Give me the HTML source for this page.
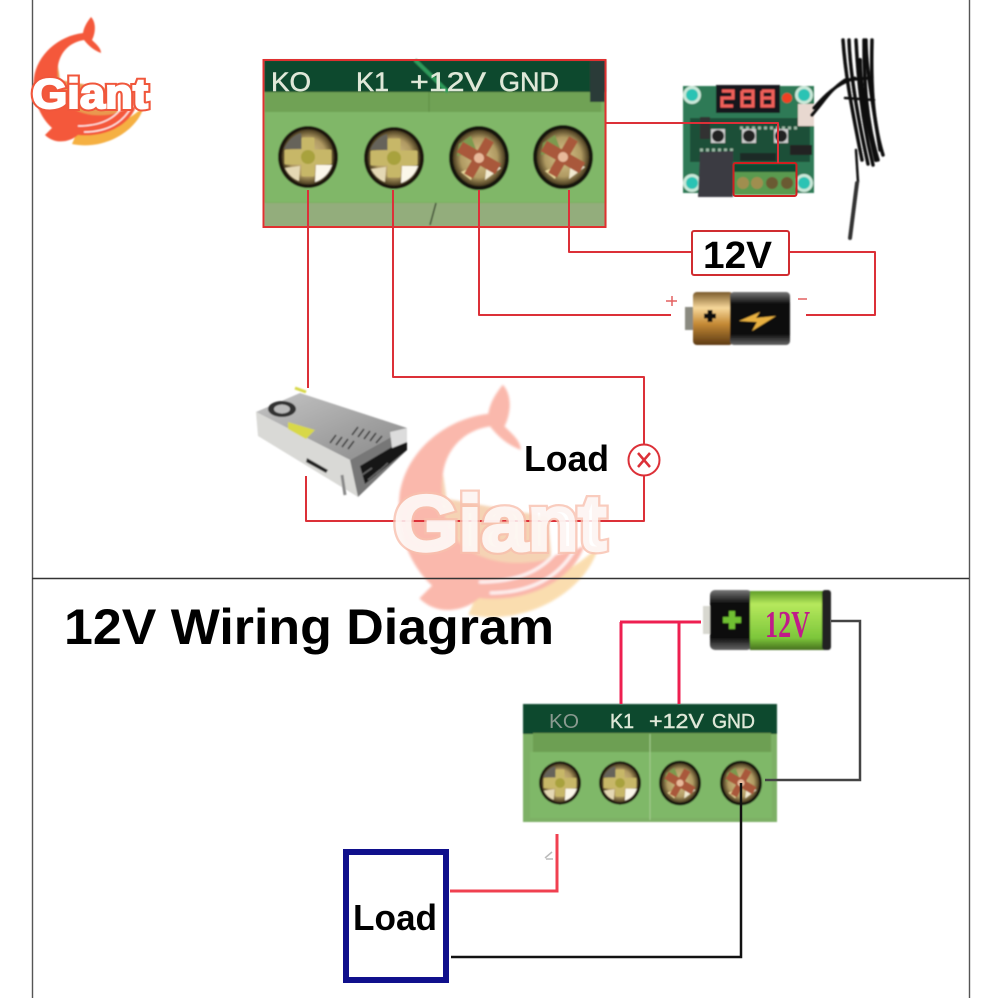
<!DOCTYPE html>
<html><head><meta charset="utf-8"><style>
html,body{margin:0;padding:0;background:#fff}
svg{display:block}
text{font-family:"Liberation Sans",sans-serif}
</style></head><body>
<svg xmlns="http://www.w3.org/2000/svg" width="1000" height="1000" viewBox="0 0 1000 1000">
<defs>
<filter id="b"><feGaussianBlur stdDeviation="0.7"/></filter>
<filter id="b2"><feGaussianBlur stdDeviation="1.3"/></filter>
<linearGradient id="gold" x1="0" y1="0" x2="0" y2="1"><stop offset="0" stop-color="#7a5a2a"/><stop offset=".3" stop-color="#f6d79a"/><stop offset=".6" stop-color="#c58a35"/><stop offset="1" stop-color="#5c3a14"/></linearGradient>
<linearGradient id="blk" x1="0" y1="0" x2="0" y2="1"><stop offset="0" stop-color="#777"/><stop offset=".22" stop-color="#111"/><stop offset=".8" stop-color="#111"/><stop offset="1" stop-color="#666"/></linearGradient>
<linearGradient id="grn" x1="0" y1="0" x2="0" y2="1"><stop offset="0" stop-color="#5e9c28"/><stop offset=".22" stop-color="#b6e85c"/><stop offset=".8" stop-color="#7cc63a"/><stop offset="1" stop-color="#456f1e"/></linearGradient>
<linearGradient id="top" x1="0" y1="0" x2="1" y2="1"><stop offset="0" stop-color="#c4c4c4"/><stop offset=".6" stop-color="#a0a0a0"/><stop offset="1" stop-color="#8a8a8a"/></linearGradient>
<radialGradient id="head"><stop offset="0" stop-color="#d8c48c"/><stop offset=".7" stop-color="#b09a62"/><stop offset="1" stop-color="#4a3d20"/></radialGradient>
<g id="shape">
<path d="M144 106C138 130 105 151 72 144L78 130C105 132 128 122 144 106Z" fill="#f5b042"/>
<path d="M91 17C96 22 96 32 92 40C96 44 101 48 101 53C93 50 88 45 84 40C70 42 60 52 58 66C56 85 60 100 72 108C85 116 115 115 136 106C130 125 105 138 78 135C70 142 55 145 45 135C48 132 50 130 52 128C38 115 32 95 34 78C37 55 58 36 83 33C84 27 87 22 91 17Z" fill="#f4593a"/>
<path d="M58 66C56 85 60 100 72 108C85 116 100 117 118 113L116 90L60 80Z" fill="#e9994f"/>
<path d="M78 126Q112 126 124 104M84 132Q118 132 132 106" fill="none" stroke="#fff" stroke-width="1.2"/>
</g>
<g id="scrA">
<ellipse rx="30" ry="31" fill="#1d170b"/>
<ellipse rx="26" ry="27.500" fill="url(#head)"/>
<path d="M-24 -8A26 27 0 0 1 -7 -24L-5 -8Z" fill="#66645a"/>
<path d="M7 25A26 27 0 0 0 24 8L8 8Z" fill="#fbf7ea"/>
<path d="M-23 11A26 27 0 0 0 -9 24L-8 9Z" fill="#e4d8b4"/>
<path d="M-5 -18H5V-6H22V6H5V18H-5V6H-22V-6H-5Z" fill="#c7b768" stroke="#c7b768" stroke-width="3" stroke-linejoin="round"/>
<circle r="7" fill="#a8a23c"/>
</g>
<g id="scrB">
<ellipse rx="30" ry="32" fill="#17130a"/>
<ellipse rx="26" ry="28" fill="url(#head)"/>
<path d="M-20 -14L-8 -22L-2 -6L-22 -2Z" fill="#7c9a50"/>
<path d="M6 22L22 10L8 4Z" fill="#f2ead0"/>
<path d="M-18 14L-8 22L-4 8Z" fill="#e9d89a"/>
<path d="M-5 -21H5V-6H22V6H5V21H-5V6H-22V-6H-5Z" fill="#a9583a" transform="rotate(30)"/>
<circle r="5" fill="#e8b99a"/>
</g>
</defs>

<!-- frame -->
<path d="M32.500 0V998M969.500 0V998" stroke="#555" stroke-width="1.400" fill="none"/>

<!-- large watermark -->
<g transform="translate(338 354) scale(1.81)" opacity=".42" filter="url(#b)">
<use href="#shape"/>
</g>

<!-- small logo -->
<g filter="url(#b)"><use href="#shape"/></g>
<text x="32" y="108" font-size="42" font-weight="700" textLength="116" lengthAdjust="spacingAndGlyphs" fill="none" stroke="#f0573c" stroke-width="6" stroke-linejoin="miter">Giant</text>
<text x="32" y="108" font-size="42" font-weight="700" textLength="116" lengthAdjust="spacingAndGlyphs" fill="#fff" stroke="#fff" stroke-width="2">Giant</text>

<!-- big terminal -->
<g filter="url(#b)">
<rect x="264" y="60" width="342" height="167" fill="#7bb061"/>
<rect x="264" y="60" width="342" height="32" fill="#0c4a2e"/>
<rect x="264" y="92" width="337" height="20" fill="#6fa255"/>
<rect x="266" y="112" width="340" height="90" fill="#80b768"/>
<rect x="264" y="203" width="342" height="24" fill="#93ad7c"/>
<path d="M415 60L448 92" stroke="#2f9a5a" stroke-width="4"/>
<rect x="590" y="60" width="15" height="42" fill="#2b3a38"/>
<path d="M429 92V112" stroke="#5d8c45"/><path d="M436 203L430 225" stroke="#3a4a30" stroke-width="1.500"/>
<use href="#scrA" transform="translate(308 157)"/>
<use href="#scrA" transform="translate(394 158)"/>
<use href="#scrB" transform="translate(479 158)"/>
<use href="#scrB" transform="translate(563 157)"/>
</g>
<g fill="#dfe8d8" stroke="#dfe8d8" stroke-width=".5" font-size="27">
<text x="271" y="91" textLength="40" lengthAdjust="spacingAndGlyphs">KO</text>
<text x="356" y="91" textLength="33" lengthAdjust="spacingAndGlyphs">K1</text>
<text x="410" y="91" textLength="76" lengthAdjust="spacingAndGlyphs">+12V</text>
<text x="499" y="91" textLength="60" lengthAdjust="spacingAndGlyphs">GND</text>
</g>
<rect x="263.500" y="60" width="342" height="167" fill="none" stroke="#e03030" stroke-width="2"/>

<!-- module -->
<g filter="url(#b)">
<rect x="683" y="86" width="131" height="107" fill="#2f7a57"/>
<rect x="690" y="118" width="120" height="44" fill="#1a4f38"/>
<path d="M700 150H735M740 128H800M708 166H730M790 150H812" stroke="#9ab8a4" stroke-width="3" stroke-dasharray="3 3"/>
<circle cx="692" cy="95" r="9" fill="#c9e8d8"/><circle cx="692" cy="95" r="6" fill="#29c3b4"/>
<circle cx="804" cy="95" r="9" fill="#c9e8d8"/><circle cx="804" cy="95" r="6" fill="#29c3b4"/>
<circle cx="692" cy="183" r="9" fill="#c9e8d8"/><circle cx="692" cy="183" r="6" fill="#29c3b4"/>
<circle cx="804" cy="183" r="9" fill="#c9e8d8"/><circle cx="804" cy="183" r="6" fill="#29c3b4"/>
<rect x="716" y="85" width="64" height="28" fill="#15151a"/>
<g fill="none" stroke="#f0605a" stroke-width="3"><path d="M722 91H733V98H722V106H733"/><path d="M742 91H753V106H742V91M742 98H753"/><path d="M762 91H773V106H762V91M762 98H773"/></g>
<circle cx="787" cy="98" r="5" fill="#f04020"/>
<rect x="798" y="104" width="16" height="22" fill="#e8d8d0"/>
<rect x="711" y="129" width="14" height="14" fill="#ccc"/><rect x="742" y="129" width="14" height="14" fill="#ccc"/><rect x="774" y="129" width="14" height="14" fill="#ccc"/>
<circle cx="718" cy="136" r="6" fill="#222"/><circle cx="749" cy="136" r="6" fill="#222"/><circle cx="781" cy="136" r="6" fill="#222"/>
<rect x="700" y="117" width="10" height="22" fill="#333"/>
<rect x="740" y="153" width="36" height="8" fill="#1c2a25"/>
<rect x="790" y="145" width="22" height="10" fill="#222"/>
<path d="M700 152L733 151V197H698Z" fill="#3b3b42"/>
<rect x="734" y="164" width="62" height="31" fill="#5a9a50"/>
<rect x="734" y="164" width="62" height="8" fill="#0e4a30"/>
<circle cx="743" cy="183" r="6" fill="#a08e50"/><circle cx="757" cy="183" r="6" fill="#a08e50"/><circle cx="772" cy="183" r="6" fill="#6a5a30"/><circle cx="787" cy="183" r="6" fill="#6a5a30"/>
</g>
<rect x="733.500" y="163" width="63" height="33" rx="2" fill="none" stroke="#d01f20" stroke-width="2"/>

<!-- sensor -->
<g fill="none" stroke="#111" filter="url(#b)" stroke-linecap="round">
<path d="M812 115C825 100 830 90 845 80L870 78" stroke-width="3"/>
<path d="M814 108C825 95 835 85 855 78" stroke-width="3"/>
<path d="M843 40C845 70 850 100 862 160" stroke-width="3.500"/>
<path d="M849 40C850 70 856 110 868 164" stroke-width="3.500"/>
<path d="M856 40C858 80 862 120 873 165" stroke-width="3.500"/>
<path d="M864 40C864 80 866 120 878 160" stroke-width="3.500"/>
<path d="M872 40C871 80 872 120 883 155" stroke-width="3.500"/>
<path d="M866 40C866 70 874 110 880 150" stroke-width="3.500"/>
<path d="M860 60C860 90 868 125 876 160" stroke-width="4"/>
<path d="M845 98L874 100" stroke-width="2.500"/>
<path d="M856 150L858 182" stroke-width="2.500"/>
<path d="M857 183L850 238" stroke-width="4" stroke="#333"/>
</g>

<!-- red wires top -->
<g fill="none" stroke="#dc3038" stroke-width="2" stroke-linejoin="round">
<path d="M606 123H778V163" />
<path d="M308 190V388"/>
<path d="M393 190V377H644V444"/>
<path d="M644 476V521H306V476"/>
<path d="M479 190V315H671"/>
<path d="M569 190V252H691"/>
<path d="M790 252H875V315H806"/>
<path d="M666 301H677M672 296V306M798 299H807" stroke-width="1.500" stroke="#e46060"/>
<circle cx="644" cy="460" r="15.500"/>
<path d="M638 453L650 467M650 453L638 467" stroke-width="2.500"/>
</g>

<!-- large watermark text over wires -->
<text x="394" y="550" font-size="78" font-weight="700" textLength="212" lengthAdjust="spacingAndGlyphs" fill="none" stroke="#f8c0ae" stroke-width="8" opacity=".8">Giant</text>
<text x="394" y="550" font-size="78" font-weight="700" textLength="212" lengthAdjust="spacingAndGlyphs" fill="#fff" stroke="#fff" stroke-width="3.500" opacity=".82">Giant</text>

<!-- 12V box -->
<rect x="692" y="231" width="97" height="44" rx="2" fill="#fff" stroke="#d02c30" stroke-width="2"/>
<text x="703" y="268" font-size="38" font-weight="700" textLength="69" lengthAdjust="spacingAndGlyphs" fill="#000">12V</text>

<!-- battery top -->
<g filter="url(#b)">
<rect x="685" y="307" width="9" height="23" fill="#8a8a80"/>
<rect x="693" y="292" width="40" height="53" rx="4" fill="url(#gold)"/>
<rect x="730" y="292" width="60" height="53" rx="4" fill="url(#blk)"/>
<path d="M704 316H716M710 310V322" stroke="#111" stroke-width="5"/>
<path d="M739 321L760 312L756 318L776 316L752 331L757 322Z" fill="#e8b040"/>
</g>

<!-- power supply -->
<g filter="url(#b)">
<path d="M256 412L300 393L407 428L350 460Z" fill="url(#top)"/>
<path d="M256 412L350 460L358 497L258 436Z" fill="#d9d9d6"/>
<path d="M350 460L407 428V450L358 497Z" fill="#777"/>
<path d="M360 466L407 438V450L365 484Z" fill="#141414"/>
<path d="M390 432L407 428V442L392 448Z" fill="#dcdcdc"/>
<path d="M362 475L372 468M368 480L380 470M376 474L388 463" stroke="#666" stroke-width="1.500"/>
<ellipse cx="282" cy="409" rx="14" ry="8" fill="#333"/><ellipse cx="282" cy="409" rx="8" ry="4.500" fill="#bbb"/>
<path d="M288 422L315 430L306 439L288 429Z" fill="#d8d848"/>
<g stroke="#333" stroke-width="1.500"><path d="M358 427L352 435M364 429L358 437M370 431L364 439M376 433L370 441M382 436L376 443"/><path d="M336 435L330 443M342 437L336 445M348 439L342 447M354 441L348 449"/></g>
<path d="M307 458L328 470L326 473L306 462Z" fill="#222"/>
<path d="M295 388L306 392" stroke="#d8d848" stroke-width="3"/>
<path d="M342 475L345 495" stroke="#888" stroke-width="3"/>
</g>

<!-- Load label -->
<text x="524" y="471" font-size="36" font-weight="700" textLength="85" lengthAdjust="spacingAndGlyphs" fill="#000">Load</text>

<!-- divider -->
<path d="M32 578.500H969" stroke="#333" stroke-width="1.400"/>

<!-- title -->
<text x="64" y="644" font-size="50" font-weight="700" textLength="490" lengthAdjust="spacingAndGlyphs" fill="#000">12V Wiring Diagram</text>

<!-- bottom terminal -->
<g filter="url(#b)">
<rect x="523" y="704" width="254" height="118" fill="#7db065"/>
<rect x="523" y="704" width="254" height="30" fill="#0d4a2e"/>
<rect x="533" y="733" width="238" height="19" fill="#6d9f52"/>
<rect x="530" y="752" width="242" height="66" fill="#7fb868"/>
<path d="M650 734V820" stroke="#a5cc90"/>
<use href="#scrA" transform="translate(560 783) scale(.7)"/>
<use href="#scrA" transform="translate(620 783) scale(.7)"/>
<use href="#scrB" transform="translate(680 783) scale(.7)"/>
<use href="#scrB" transform="translate(741 783) scale(.7)"/>
</g>
<g font-size="20" stroke-width=".4">
<text x="549" y="728" fill="#8a9a90" textLength="30" lengthAdjust="spacingAndGlyphs">KO</text>
<text x="610" y="728" fill="#dfe8d8" stroke="#dfe8d8" textLength="24" lengthAdjust="spacingAndGlyphs">K1</text>
<text x="649" y="728" fill="#dfe8d8" stroke="#dfe8d8" textLength="55" lengthAdjust="spacingAndGlyphs">+12V</text>
<text x="712" y="728" fill="#dfe8d8" stroke="#dfe8d8" textLength="43" lengthAdjust="spacingAndGlyphs">GND</text>
</g>

<!-- battery bottom -->
<g filter="url(#b)">
<rect x="703" y="606" width="8" height="28" fill="#d8d8d0"/>
<rect x="710" y="590" width="42" height="60" rx="5" fill="url(#blk)"/>
<rect x="750" y="591" width="75" height="59" fill="url(#grn)"/>
<rect x="822" y="590" width="9" height="60" rx="3" fill="#222"/>
<path d="M723 620H741M732 611V629" stroke="#70c030" stroke-width="6"/>
</g>
<text x="765" y="637" font-size="38" font-weight="700" textLength="45" lengthAdjust="spacingAndGlyphs" fill="#c01a8a" style="font-family:'Liberation Serif',serif">12V</text>

<!-- bottom wires -->
<path d="M620 622H701M621 622V704M679 622V704" fill="none" stroke="#ee1f50" stroke-width="3"/>
<path d="M831 621H860V780H765" fill="none" stroke="#444" stroke-width="2.500"/>
<path d="M741 783V957H451" fill="none" stroke="#111" stroke-width="2.500"/>
<path d="M450 891H557V834" fill="none" stroke="#f04050" stroke-width="3"/>
<path d="M545 858L552 852M546 859H553" stroke="#bbb" stroke-width="1.500"/>

<!-- load box -->
<rect x="346" y="852" width="100" height="128" fill="#fff" stroke="#10108c" stroke-width="6"/>
<text x="353" y="930" font-size="36" font-weight="700" textLength="84" lengthAdjust="spacingAndGlyphs" fill="#000">Load</text>
</svg>
</body></html>
